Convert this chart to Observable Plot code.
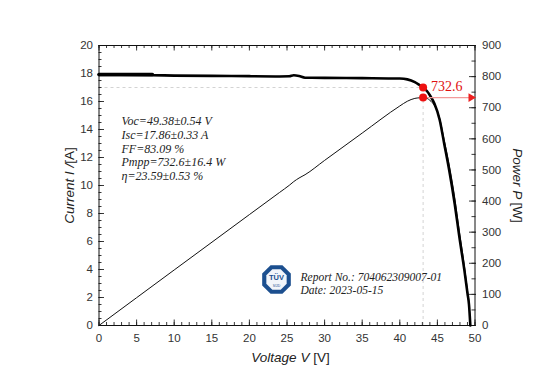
<!DOCTYPE html>
<html>
<head>
<meta charset="utf-8">
<script src="https://cdn.jsdelivr.net/npm/d3@7"></script>
<script src="https://cdn.jsdelivr.net/npm/@observablehq/plot@0.6"></script>
<style>
  html, body { margin: 0; padding: 0; background: #fff; }
  #chart { width: 553px; height: 392px; }
</style>
</head>
<body>
<div id="chart"></div>
<script>
// ---- Data ----
// I-V curve (voltage V, current A)
const voltage = [0, 7, 10, 15, 20, 24, 25.3, 25.9, 26.6, 27.4, 30, 35, 40, 41, 42, 42.6, 43.1, 43.6, 44, 44.6, 45.3, 45.9, 46.6, 47.3, 47.9, 48.6, 49.0, 49.2, 49.38];
const current = [17.9, 17.88, 17.85, 17.83, 17.81, 17.79, 17.8, 17.87, 17.82, 17.7, 17.69, 17.67, 17.64, 17.58, 17.38, 17.18, 17.0, 16.75, 16.45, 15.85, 14.7, 13.0, 11.0, 8.7, 6.4, 3.9, 2.3, 1.5, 0];
// P-V curve (voltage V, power W)
const powerV = [0, 10, 20, 24, 25.3, 25.9, 26.6, 27.4, 30, 35, 40, 41, 42, 42.6, 43.1, 43.6, 44, 44.6, 45.3, 45.9, 46.6, 47.3, 47.9, 48.6, 49.0, 49.2, 49.38];
const power = [0, 178.5, 356.5, 427.5, 450.6, 462.6, 474, 484.7, 530.7, 618.5, 705.6, 720.8, 730, 731.9, 732.6, 730.3, 723.8, 706.9, 665.9, 596.7, 512.6, 411.5, 306.6, 189.5, 112.7, 73.8, 0];
// thicker start segment of the I-V trace
const startV = [0, 7.1];
const startI = [17.93, 17.93];

const mppV = 43.1, mppI = 17.0, mppP = 732.6;

const xTickLabels = [0, 5, 10, 15, 20, 25, 30, 35, 40, 45, 50];
const yTickLabels = [0, 2, 4, 6, 8, 10, 12, 14, 16, 18, 20];
const pTickLabels = [0, 100, 200, 300, 400, 500, 600, 700, 800, 900];

const statLines = ["Voc=49.38±0.54 V", "Isc=17.86±0.33 A", "FF=83.09 %", "Pmpp=732.6±16.4 W", "η=23.59±0.53 %"];
const reportLines = ["Report No.: 704062309007-01", "Date: 2023-05-15"];

// ---- Build ----
const pScale = 900 / 20; // W per A on the shared vertical scale
const iv = voltage.map((v, i) => ({v, i: current[i]}));
const pv = powerV.map((v, i) => ({v, p: power[i]}));
const start = startV.map((v, k) => ({v, i: startI[k]}));

const W = 553, H = 392;
const mL = 98.5, mR = 78.5, mT = 45, mB = 67;
const pxPerV = (W - mL - mR) / 50;
const pxPerA = (H - mT - mB) / 20;
const dx = px => px / pxPerV;
const dy = px => px / pxPerA;

const xMinor = d3.range(0, 50.01, 1);
const yMinor = d3.range(0, 20.01, 0.5);
const pMinor = d3.range(0, 900.1, 50).map(p => p / pScale);
const pMajor = pTickLabels.map(p => p / pScale);

const octagon = {
  draw(context, size) {
    const r = Math.sqrt(size / Math.PI);
    for (let k = 0; k < 8; k++) {
      const a = Math.PI / 8 + k * Math.PI / 4;
      const x = r * Math.cos(a), y = r * Math.sin(a);
      if (k === 0) context.moveTo(x, y); else context.lineTo(x, y);
    }
    context.closePath();
  }
};

const statsData = statLines.map((t, k) => ({t, k}));
const reportData = reportLines.map((t, k) => ({t, k}));
const serif = "'Liberation Serif', 'Times New Roman', serif";

const chart = Plot.plot({
  width: W, height: H,
  marginLeft: mL, marginRight: mR, marginTop: mT, marginBottom: mB,
  style: {fontFamily: "'Liberation Sans', Arial, sans-serif", fontSize: "11px", color: "#222", background: "#fff"},
  x: {domain: [0, 50]},
  y: {domain: [0, 20]},
  marks: [
    // guide lines
    Plot.ruleY([mppI], {x1: 0, x2: mppV, stroke: "#c8c8c8", strokeWidth: 0.8, strokeDasharray: "3,3"}),
    Plot.ruleX([mppV], {y1: 0, y2: mppI, stroke: "#c8c8c8", strokeWidth: 0.8, strokeDasharray: "3,3"}),
    // ticks (inward)
    Plot.ruleX(xMinor, {y1: 0, y2: dy(3), stroke: "#222", strokeWidth: 0.9}),
    Plot.ruleX(xTickLabels, {y1: 0, y2: dy(5.5), stroke: "#222", strokeWidth: 0.9}),
    Plot.ruleX(xMinor, {y1: 20, y2: 20 - dy(3), stroke: "#222", strokeWidth: 0.9}),
    Plot.ruleX(xTickLabels, {y1: 20, y2: 20 - dy(5.5), stroke: "#222", strokeWidth: 0.9}),
    Plot.ruleY(yMinor, {x1: 0, x2: dx(3), stroke: "#222", strokeWidth: 0.9}),
    Plot.ruleY(yTickLabels, {x1: 0, x2: dx(5.5), stroke: "#222", strokeWidth: 0.9}),
    Plot.ruleY(pMinor, {x1: 50 - dx(3), x2: 50 + dx(1), stroke: "#222", strokeWidth: 0.9}),
    Plot.ruleY(pMajor, {x1: 50 - dx(5.5), x2: 50 + dx(1.5), stroke: "#222", strokeWidth: 0.9}),
    Plot.frame({stroke: "#111", strokeWidth: 1}),
    // axes labels
    Plot.axisX(xTickLabels, {tickSize: 0, tickPadding: 8, label: null, fontSize: 11.5, fill: "#333"}),
    Plot.axisY(yTickLabels, {tickSize: 0, tickPadding: 6, label: null, fontSize: 11.5, fill: "#333"}),
    Plot.axisY(pMajor, {anchor: "right", tickSize: 0, tickPadding: 7, label: null, fontSize: 11.5, fill: "#333",
      tickFormat: d => String(Math.round(d * pScale))}),
    // curves
    Plot.line(pv, {x: "v", y: d => d.p / pScale, stroke: "#111", strokeWidth: 1, curve: "monotone-x"}),
    Plot.line(iv, {x: "v", y: "i", stroke: "#000", strokeWidth: 2.6, curve: "monotone-x"}),
    Plot.line(start, {x: "v", y: "i", stroke: "#000", strokeWidth: 3.6}),
    // MPP annotation: arrow to the power axis
    Plot.ruleY([mppP / pScale], {x1: mppV, x2: 50 - dx(5), stroke: "#f29a9a", strokeWidth: 1.4}),
    Plot.dot([mppP / pScale], {x: 50 - dx(4), y: d => d, symbol: "triangle", r: 3.2, rotate: 90, fill: "#ee2020"}),
    Plot.dot([{v: mppV, i: mppI}, {v: mppV, i: mppP / pScale}], {x: "v", y: "i", r: 4, fill: "#ee1111"}),
    Plot.text([mppP], {x: mppV + dx(8), y: mppI + dy(1), text: d => d.toFixed(1), textAnchor: "start",
      fill: "#e01010", fontSize: 14, fontFamily: serif}),
    // statistics text
    Plot.text(statsData, {x: dx(121 - mL), y: d => 20 - dy(121 - mT) - d.k * dy(13.7), text: "t", textAnchor: "start",
      fontSize: 12, fontStyle: "italic", fill: "#222", fontFamily: serif}),
    // TÜV logo
    Plot.dot([0], {x: dx(276 - mL), y: dy(H - mB - 279), r: 15.5, symbol: octagon, fill: "#1c4f8f"}),
    Plot.dot([0], {x: dx(276 - mL), y: dy(H - mB - 279), r: 11, symbol: octagon, fill: "#f2f5fa"}),
    Plot.text(["TÜV"], {x: dx(276 - mL), y: dy(H - mB - 277.5), text: d => d, fontSize: 7.5, fontWeight: "bold", fill: "#1c4f8f"}),
    Plot.text(["SÜD"], {x: dx(276 - mL), y: dy(H - mB - 285), text: d => d, fontSize: 3.5, fill: "#1c4f8f"}),
    Plot.text(reportData, {x: dx(300 - mL), y: d => dy(H - mB - 277) - d.k * dy(12.6), text: "t", textAnchor: "start",
      fontSize: 11.5, fontStyle: "italic", fill: "#222", fontFamily: serif}),
    // axis titles
    Plot.text(["Current I /[A]"], {x: -dx(mL - 69), y: 10, text: d => d, rotate: -90, fontSize: 13.5, fill: "#222"}),
    Plot.text(["Voltage V [V]"], {x: dx(290 - mL), y: -dy(357 - (H - mB)), text: d => d, fontSize: 13.5, fill: "#222"}),
    Plot.text(["Power P [W]"], {x: 50 + dx(517 - (W - mR)), y: 10, text: d => d, rotate: 90, fontSize: 13.5, fill: "#222"})
  ]
});

document.getElementById("chart").appendChild(chart);

// Mixed italic / upright axis titles
const svg = d3.select(chart);
const titles = {
  "Current I /[A]": ["Current I /", "[A]"],
  "Voltage V [V]": ["Voltage V ", "[V]"],
  "Power P [W]": ["Power P ", "[W]"]
};
svg.selectAll("text").each(function () {
  const t = this.textContent;
  if (titles[t]) {
    const [a, b] = titles[t];
    const sel = d3.select(this);
    sel.text(null);
    sel.append("tspan").attr("font-style", "italic").text(a);
    sel.append("tspan").text(b);
  }
});
</script>
</body>
</html>
